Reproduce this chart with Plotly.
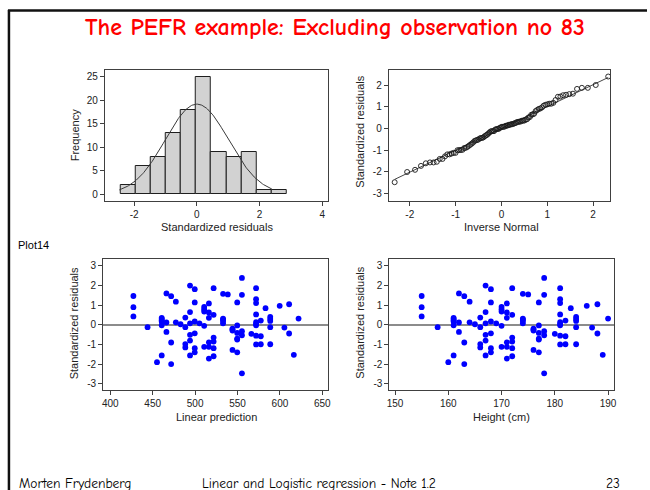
import numpy as np
import plotly.graph_objects as go
from statistics import NormalDist

# ---- data -------------------------------------------------------------
height_cm = [
    155, 155, 155, 158, 160,
    161, 161, 161, 161, 161, 161,
    162, 162, 162, 163, 163, 163, 164, 164, 165,
    166, 166, 166, 166,
    167, 167, 167, 167, 167, 167,
    168, 168, 168, 168, 168, 168, 169,
    170, 170, 170, 170, 170,
    171, 171, 171, 171, 171, 171,
    172, 172, 172, 172, 172, 172,
    174, 174, 174, 174, 174, 175,
    176, 176, 176, 176,
    177, 177, 177, 177, 177, 177,
    178, 178, 178, 178, 178, 180,
    181, 181, 181, 181, 181, 181, 181, 181, 181,
    182, 182, 182, 183,
    184, 184, 184, 184, 184,
    186, 187, 188, 188, 189, 190,
]
std_resid = [
    1.47, 0.90, 0.43, -0.12, -1.90,
    0.36, 0.24, 0.17, -0.02, -1.56, 0.30,
    1.60, 0.12, -0.36, 1.46, -0.90, -2.00, 1.18, 0.13, 0.03,
    0.37, -0.12, -0.98, -1.15,
    2.00, 0.65, 0.08, -0.51, -0.80, -1.56,
    1.82, 1.14, 0.17, -0.43, -1.19, -1.40, 0.08,
    0.92, 0.80, 0.68, -0.05, -1.12,
    1.09, 0.63, 0.36, -0.89, -1.12, -1.72,
    1.87, 0.51, -0.65, -0.85, -1.19, -1.60,
    1.58, 0.32, 0.20, 0.08, 0.26, 1.55,
    -0.19, -0.29, -1.28, -0.24,
    1.14, -0.03, -0.41, -0.70, -1.40, -0.75,
    2.39, 1.53, -0.32, -0.53, -2.47, -0.46,
    1.87, 1.31, 1.11, 0.53, 0.14, -0.02, -0.55, -1.00, 0.05,
    0.22, -0.58, -0.99, 0.85,
    0.41, 0.20, -0.12, -0.99, 0.30,
    0.97, -0.14, 1.05, -0.44, -1.53, 0.32,
]

# fitted model: PEFR = b0 + b1 * height
b0 = -435.0
b1 = 5.563

# histogram of the standardized residuals
hist_start = -2.44
hist_width = 0.483
hist_counts = [2, 6, 8, 13, 18, 25, 9, 8, 9, 1, 1]

# tick labels
hist_xticks = [-2, 0, 2, 4]
hist_yticks = [0, 5, 10, 15, 20, 25]
qq_xticks = [-2, -1, 0, 1, 2]
qq_yticks = [-3, -2, -1, 0, 1, 2]
res_yticks = [-3, -2, -1, 0, 1, 2, 3]
pred_xticks = [400, 450, 500, 550, 600, 650]
height_xticks = [150, 160, 170, 180, 190]

# ---- derived quantities ------------------------------------------------
resid = np.array(std_resid)
height = np.array(height_cm)
pred = b0 + b1 * height
n = len(resid)
mu, sd = resid.mean(), resid.std(ddof=1)

bin_centers = [hist_start + hist_width * (i + 0.5) for i in range(len(hist_counts))]

curve_x = np.linspace(resid.min(), resid.max(), 200)
curve_y = [n * hist_width * NormalDist(mu, sd).pdf(v) for v in curve_x]

qq_sorted = np.sort(resid)
qq_theor = np.array([NormalDist().inv_cdf(i / (n + 1)) for i in range(1, n + 1)])

# ---- figure -------------------------------------------------------------
W, H = 650, 490
AX_FONT = "Liberation Sans, Arial, sans-serif"
LINE = "#404040"


def px(x):
    return x / W


def py(y):
    return 1 - y / H


def tick_text(vals):
    return [str(v) for v in vals]


fig = go.Figure()

# histogram + normal density
fig.add_trace(go.Bar(
    x=bin_centers, y=hist_counts, width=hist_width,
    marker=dict(color="#d2d2d2", line=dict(color="#1e1e1e", width=1)),
    xaxis="x", yaxis="y", showlegend=False,
))
fig.add_trace(go.Scatter(
    x=curve_x, y=curve_y, mode="lines",
    line=dict(color="#3a3a3a", width=1),
    xaxis="x", yaxis="y", showlegend=False,
))

# normal quantile plot
fig.add_trace(go.Scatter(
    x=[qq_theor[0], qq_theor[-1]],
    y=[mu + sd * qq_theor[0], mu + sd * qq_theor[-1]],
    mode="lines", line=dict(color="#303030", width=0.9),
    xaxis="x2", yaxis="y2", showlegend=False,
))
fig.add_trace(go.Scatter(
    x=qq_theor, y=qq_sorted, mode="markers",
    marker=dict(symbol="circle-open", size=5, color="#1a1a1a", line=dict(width=0.9)),
    xaxis="x2", yaxis="y2", showlegend=False,
))

# residuals against linear prediction and height
fig.add_trace(go.Scatter(
    x=pred, y=resid, mode="markers",
    marker=dict(size=5.8, color="#0000ff"),
    xaxis="x3", yaxis="y3", showlegend=False,
))
fig.add_trace(go.Scatter(
    x=height, y=resid, mode="markers",
    marker=dict(size=5.8, color="#0000ff"),
    xaxis="x4", yaxis="y4", showlegend=False,
))

axis_common = dict(
    showline=True, mirror=True, linecolor=LINE, linewidth=1,
    ticks="outside", ticklen=4, tickcolor=LINE, tickwidth=1,
    showgrid=False, zeroline=False,
    tickfont=dict(family=AX_FONT, size=10, color="#222222"),
    tickmode="array", fixedrange=True,
)

panels = {
    # name: (x0, x1, ytop, ybottom) in pixels
    "1": (102.7, 328.3, 70, 200.7),
    "2": (389.3, 612.7, 70, 200.7),
    "3": (101.0, 328.3, 259.3, 390),
    "4": (390.0, 617.0, 259.3, 390),
}


def dom(key):
    x0, x1, yt, yb = panels[key]
    return [px(x0), px(x1)], [py(yb), py(yt)]


d1x, d1y = dom("1")
d2x, d2y = dom("2")
d3x, d3y = dom("3")
d4x, d4y = dom("4")

fig.update_layout(
    width=W, height=H,
    margin=dict(l=0, r=0, t=0, b=0),
    paper_bgcolor="white", plot_bgcolor="white",
    bargap=0,
    xaxis=dict(axis_common, domain=d1x, anchor="y", range=[-2.935, 4.19],
               tickvals=hist_xticks, ticktext=tick_text(hist_xticks)),
    yaxis=dict(axis_common, domain=d1y, anchor="x", range=[-1.36, 26.42],
               tickvals=hist_yticks, ticktext=tick_text(hist_yticks)),
    xaxis2=dict(axis_common, domain=d2x, anchor="y2", range=[-2.46, 2.37],
                tickvals=qq_xticks, ticktext=tick_text(qq_xticks)),
    yaxis2=dict(axis_common, domain=d2y, anchor="x2", range=[-3.32, 2.69],
                tickvals=qq_yticks, ticktext=tick_text(qq_yticks)),
    xaxis3=dict(axis_common, domain=d3x, anchor="y3", range=[391.5, 657],
                tickvals=pred_xticks, ticktext=tick_text(pred_xticks)),
    yaxis3=dict(axis_common, domain=d3y, anchor="x3", range=[-3.32, 3.34],
                tickvals=res_yticks, ticktext=tick_text(res_yticks),
                zeroline=True, zerolinecolor="#8c8c8c", zerolinewidth=1.6),
    xaxis4=dict(axis_common, domain=d4x, anchor="y4", range=[148.94, 191.17],
                tickvals=height_xticks, ticktext=tick_text(height_xticks)),
    yaxis4=dict(axis_common, domain=d4y, anchor="x4", range=[-3.32, 3.34],
                tickvals=res_yticks, ticktext=tick_text(res_yticks),
                zeroline=True, zerolinecolor="#8c8c8c", zerolinewidth=1.6),
)

# axis titles
title_font = dict(family=AX_FONT, size=11, color="#222222")
axis_titles = [
    ("Standardized residuals", 215.5, 227, 0),
    ("Frequency", 73, 135, -90),
    ("Inverse Normal", 503, 227, 0),
    ("Standardized residuals", 360, 132, -90),
    ("Linear prediction", 215, 417, 0),
    ("Standardized residuals", 72, 323, -90),
    ("Height (cm)", 503, 417, 0),
    ("Standardized residuals", 360, 323, -90),
]
for text, x, y, ang in axis_titles:
    fig.add_annotation(text=text, x=px(x), y=py(y), xref="paper", yref="paper",
                       showarrow=False, textangle=ang, font=title_font,
                       xanchor="center", yanchor="middle")

# slide heading, side label and footer
slide_font = "Comic Sans MS, Comic Neue, Lato, sans-serif"
fig.add_annotation(text="<b>The PEFR example: Excluding observation no 83</b>",
                   x=px(335), y=py(27), xref="paper", yref="paper", showarrow=False,
                   font=dict(family=slide_font, size=24, color="#ff0000"),
                   xanchor="center", yanchor="middle")
fig.add_annotation(text="Plot14", x=px(13), y=py(245), xref="paper", yref="paper",
                   showarrow=False, xanchor="left", yanchor="middle",
                   font=dict(family=AX_FONT, size=11, color="#000000"))
footer_font = dict(family=slide_font, size=13.5, color="#000000")
fig.add_annotation(text="Morten Frydenberg", x=px(14), y=py(483), xref="paper", yref="paper",
                   showarrow=False, xanchor="left", yanchor="middle", font=footer_font)
fig.add_annotation(text="Linear and Logistic regression - Note 1.2", x=px(199), y=py(483),
                   xref="paper", yref="paper", showarrow=False, xanchor="left",
                   yanchor="middle", font=footer_font)
fig.add_annotation(text="23", x=px(625), y=py(483), xref="paper", yref="paper",
                   showarrow=False, xanchor="right", yanchor="middle", font=footer_font)

# slide border (top rule and left rule)
fig.add_shape(type="line", xref="paper", yref="paper", x0=px(5), x1=1, y0=py(10.5), y1=py(10.5),
              line=dict(color="#111111", width=2.5))
fig.add_shape(type="line", xref="paper", yref="paper", x0=px(6), x1=px(6), y0=py(10), y1=0,
              line=dict(color="#111111", width=2.5))

fig.write_html("out.html")
